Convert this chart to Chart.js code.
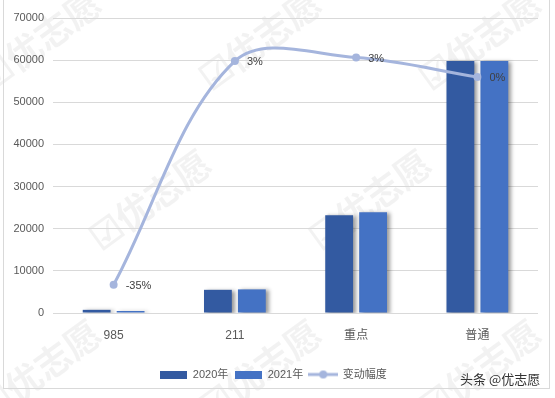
<!DOCTYPE html>
<html>
<head>
<meta charset="utf-8">
<script src="https://cdn.jsdelivr.net/npm/chart.js@4/dist/chart.umd.min.js"></script>
<style>
  html, body { margin: 0; padding: 0; background: #fff; }
  #wrap { position: relative; width: 555px; height: 398px; }
  #frame { position: absolute; left: 3px; top: -1px; width: 547px; height: 390px; border: 1px solid #d9d9d9; box-sizing: border-box; pointer-events: none; }
  #mark { position: absolute; left: 460px; top: 369px; font: 13px "Noto Sans CJK SC", sans-serif; color: #333; }
</style>
</head>
<body>
<div id="wrap">
  <canvas id="myChart" width="555" height="398"></canvas>
  <div id="frame"></div>
  <div id="mark">头条 @优志愿</div>
</div>
<script>
// categories and values
const categories = ['985', '211', '重点', '普通'];
const values2020 = [750, 5500, 23200, 59800];
const values2021 = [480, 5600, 23900, 59800];
const changePct = [-35.2, 2.7, 3.3, 0];
const yTicks = [0, 10000, 20000, 30000, 40000, 50000, 60000, 70000];

const c2020 = '#335aa1';
const c2021 = '#4472c4';
const cLine = '#a5b5dd';
const fontFam = '"Liberation Sans", "Noto Sans CJK SC", sans-serif';

function swatch(color, w, h) {
    const cv = document.createElement('canvas');
    cv.width = w; cv.height = h;
    const g = cv.getContext('2d');
    g.fillStyle = color;
    g.fillRect(0, 0, w, h);
    return cv;
}
function lineSwatch(color) {
    const cv = document.createElement('canvas');
    cv.width = 30; cv.height = 10;
    const g = cv.getContext('2d');
    g.strokeStyle = color; g.lineWidth = 3;
    g.beginPath(); g.moveTo(0, 5); g.lineTo(30, 5); g.stroke();
    g.fillStyle = color;
    g.beginPath(); g.arc(15, 5, 4, 0, Math.PI * 2); g.fill();
    return cv;
}

// faint watermark in the background
const watermark = {
    id: 'watermark',
    beforeDraw(chart) {
        const ctx = chart.ctx;
        const spots = [[40, 40], [260, 40], [480, 40], [150, 200], [370, 200], [40, 370], [260, 370], [480, 370]];
        ctx.save();
        ctx.fillStyle = 'rgba(0,0,0,0.05)';
        ctx.font = 'bold 36px "Noto Sans CJK SC", sans-serif';
        ctx.textAlign = 'center';
        ctx.textBaseline = 'middle';
        spots.forEach(p => {
            ctx.save();
            ctx.translate(p[0], p[1]);
            ctx.rotate(-Math.PI / 5);
            ctx.fillText('☑优志愿', 0, 0);
            ctx.restore();
        });
        ctx.restore();
    }
};

// grey shadow to the right of the bars
const barShadow = {
    id: 'barShadow',
    beforeDatasetDraw(chart, args) {
        if (args.meta.type !== 'bar') return;
        const ctx = chart.ctx;
        ctx.save();
        ctx.shadowColor = 'rgba(0,0,0,0.4)';
        ctx.shadowOffsetX = 3;
        ctx.shadowOffsetY = 1;
        ctx.shadowBlur = 4;
    },
    afterDatasetDraw(chart, args) {
        if (args.meta.type !== 'bar') return;
        chart.ctx.restore();
    }
};

// percent labels next to line points
const pctLabels = {
    id: 'pctLabels',
    afterDatasetsDraw(chart) {
        const meta = chart.getDatasetMeta(2);
        const ctx = chart.ctx;
        ctx.save();
        ctx.fillStyle = '#404040';
        ctx.font = '11px ' + fontFam;
        ctx.textAlign = 'left';
        ctx.textBaseline = 'middle';
        meta.data.forEach((pt, i) => {
            ctx.fillText(Math.round(changePct[i]) + '%', pt.x + 12, pt.y + 1);
        });
        ctx.restore();
    }
};

const ctx = document.getElementById('myChart').getContext('2d');
new Chart(ctx, {
    data: {
        labels: categories,
        datasets: [{
            type: 'bar',
            label: '2020年',
            data: values2020,
            backgroundColor: c2020,
            categoryPercentage: 0.56,
            barPercentage: 0.82,
            order: 2
        }, {
            type: 'bar',
            label: '2021年',
            data: values2021,
            backgroundColor: c2021,
            categoryPercentage: 0.56,
            barPercentage: 0.82,
            order: 2
        }, {
            type: 'line',
            label: '变动幅度',
            data: changePct,
            yAxisID: 'y1',
            borderColor: cLine,
            backgroundColor: cLine,
            borderWidth: 3,
            pointRadius: 4,
            pointBackgroundColor: cLine,
            pointBorderWidth: 0,
            tension: 0.35,
            order: 1
        }]
    },
    options: {
        responsive: false,
        animation: false,
        layout: { padding: { top: 18, left: 8, right: 17, bottom: 8 } },
        scales: {
            x: {
                grid: { display: false },
                border: { display: false },
                ticks: { color: '#595959', font: { family: fontFam, size: 12 }, padding: 7 },
                afterFit(scale) { scale.height = 50; }
            },
            y: {
                min: 0,
                max: 70000,
                afterBuildTicks(scale) { scale.ticks = yTicks.map(v => ({ value: v })); },
                grid: { color: '#d9d9d9', drawTicks: false },
                border: { display: false },
                ticks: {
                    color: '#595959',
                    font: { family: fontFam, size: 11 },
                    padding: 9,
                    callback: v => String(v)
                },
                afterFit(scale) { scale.width = 45; }
            },
            y1: {
                display: false,
                min: -40,
                max: 10
            }
        },
        plugins: {
            legend: {
                position: 'bottom',
                labels: {
                    usePointStyle: true,
                    pointStyleWidth: 28,
                    padding: 6,
                    color: '#595959',
                    font: { family: fontFam, size: 11 },
                    generateLabels(chart) {
                        const imgs = [swatch(c2020, 27, 8), swatch(c2021, 27, 8), lineSwatch(cLine)];
                        return chart.data.datasets.map((ds, i) => ({
                            text: ds.label,
                            pointStyle: imgs[i],
                            fillStyle: ds.backgroundColor,
                            strokeStyle: ds.backgroundColor,
                            lineWidth: 0,
                            fontColor: '#595959',
                            datasetIndex: i,
                            hidden: false
                        }));
                    }
                }
            },
            tooltip: { enabled: false }
        }
    },
    plugins: [watermark, barShadow, pctLabels]
});
</script>
</body>
</html>
